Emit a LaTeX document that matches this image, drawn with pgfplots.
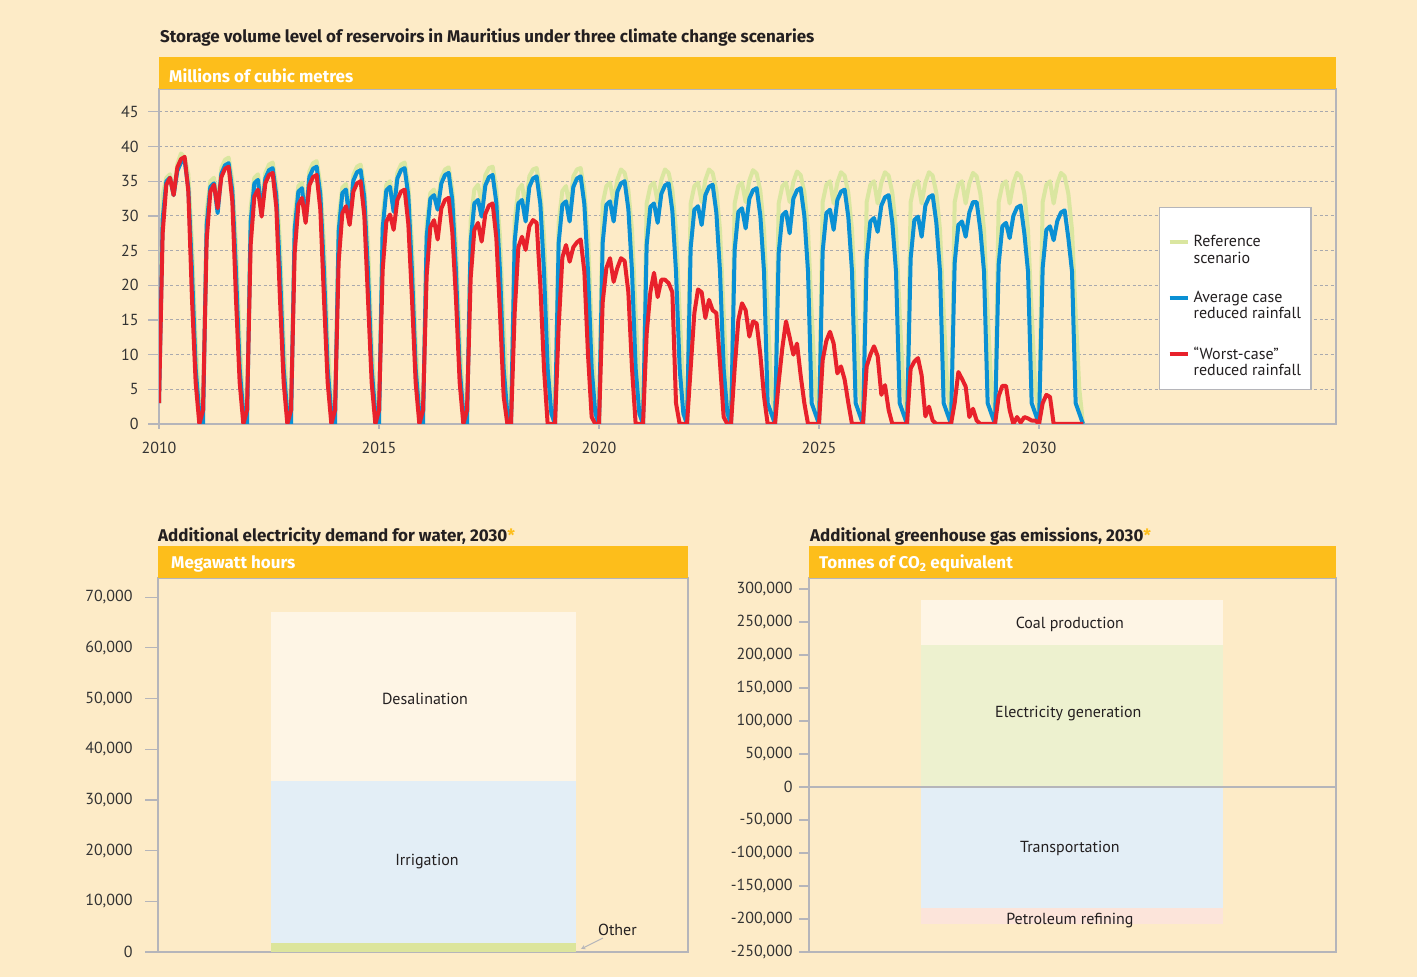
\documentclass[border=0pt]{standalone}
\usepackage{fontspec}
\setmainfont{PT Sans}
\newfontfamily\hfont{Fira Sans}
\usepackage{pgfplots}
\usepackage{pgfplotstable}
\pgfplotsset{compat=1.18}
\definecolor{bgc}{HTML}{FDEBC7}
\definecolor{bary}{HTML}{FDBE1B}
\definecolor{gridg}{HTML}{A9A9AE}
\definecolor{axisg}{HTML}{B5B5BA}
\definecolor{refg}{HTML}{DAE6A0}
\definecolor{avgb}{HTML}{0A90D4}
\definecolor{worr}{HTML}{E8212B}
\definecolor{txt}{HTML}{231F20}
\definecolor{tickc}{HTML}{333333}
\definecolor{desal}{HTML}{FEF5E5}
\definecolor{irrig}{HTML}{E3EEF6}
\definecolor{othr}{HTML}{DCE59C}
\definecolor{coal}{HTML}{FEF5E5}
\definecolor{elec}{HTML}{EDF1CF}
\definecolor{transp}{HTML}{E3EEF6}
\definecolor{petro}{HTML}{FCE4DA}
\newcommand{\fs}{\fontsize{16bp}{16bp}\selectfont}
\newcommand{\hs}{\hfont\bfseries\fontsize{17bp}{18bp}\selectfont}
\newcommand{\two}[2]{\begin{tabular}[t]{@{}l@{}}#1\\#2\end{tabular}}

\pgfplotstableread{
x g b r
2010.000 3 3 3
2010.083 33 29.5 27.5
2010.167 35.5 35 34.5
2010.250 36 35.5 35.5
2010.333 33 33 33
2010.417 37.5 36.5 37
2010.500 39 37.7 38.2
2010.583 38.5 38 38.5
2010.667 36 34 33.5
2010.750 26 22 18
2010.833 12 8 6
2010.917 3 1.5 0
2011.000 1 0 2
2011.083 30.7 28.7 26.5
2011.167 35 34.2 33.5
2011.250 35.5 34.7 34.5
2011.333 31.4 30.4 31.1
2011.417 36.9 36.1 35.6
2011.500 38.1 37.3 36.8
2011.583 38.4 37.6 37.1
2011.667 35.1 33.6 32.1
2011.750 26 22 18
2011.833 12 8 6
2011.917 3 1.5 0
2012.000 1 0 2
2012.083 31.2 29.2 25.8
2012.167 35.5 34.7 32.8
2012.250 36 35.2 33.8
2012.333 31.5 30.5 29.9
2012.417 36.2 35.4 34.7
2012.500 37.4 36.6 35.9
2012.583 37.7 36.9 36.2
2012.667 34.4 32.9 31.2
2012.750 26 22 18
2012.833 12 8 6
2012.917 3 1.5 0
2013.000 1 0 2
2013.083 30 28 24.6
2013.167 34.3 33.5 31.6
2013.250 34.8 34 32.6
2013.333 30.2 29.2 29
2013.417 36.4 35.6 34.4
2013.500 37.6 36.8 35.6
2013.583 37.9 37.1 35.9
2013.667 34.6 33.1 30.9
2013.750 26 22 18
2013.833 12 8 6
2013.917 3 1.5 0
2014.000 1 0 2
2014.083 29.8 27.8 23.4
2014.167 34.1 33.3 30.4
2014.250 34.6 33.8 31.4
2014.333 30 29 28.7
2014.417 35.9 35.1 33.5
2014.500 37.1 36.3 34.7
2014.583 37.4 36.6 35
2014.667 34.1 32.6 30
2014.750 26 22 18
2014.833 12 8 6
2014.917 3 1.5 0
2015.000 1 0 2
2015.083 30.2 28.2 22.2
2015.167 34.5 33.7 29.2
2015.250 35 34.2 30.2
2015.333 31.6 30.6 28
2015.417 36.2 35.4 32.3
2015.500 37.4 36.6 33.5
2015.583 37.7 36.9 33.8
2015.667 34.4 32.9 28.8
2015.750 26 22 18
2015.833 12 8 6
2015.917 3 1.5 0
2016.000 1 0 2
2016.083 29 27 21.4
2016.167 33.3 32.5 28.4
2016.250 33.8 33 29.4
2016.333 31.9 30.9 26.6
2016.417 35.5 34.7 31.1
2016.500 36.7 35.9 32.3
2016.583 37 36.2 32.6
2016.667 33.7 32.2 27.6
2016.750 26 22 18
2016.833 12 8 6
2016.917 3 1.5 0
2017.000 1 0 2
2017.083 29.3 26.3 21
2017.167 33.8 31.8 28
2017.250 34.5 32.3 29
2017.333 31.9 29.9 26.3
2017.417 35.9 34.4 30.3
2017.500 36.9 35.6 31.5
2017.583 37.1 35.9 31.8
2017.667 33.9 31.9 26.8
2017.750 27 22 16
2017.833 14 8 4
2017.917 4 1.5 0
2018.000 1 0 0
2018.083 29.3 26.3 16
2018.167 33.8 31.8 25.5
2018.250 34.5 32.3 27
2018.333 31.2 29.2 25.1
2018.417 35.7 34.2 28.5
2018.500 36.7 35.4 29.4
2018.583 36.9 35.7 29
2018.667 33.7 31.7 20
2018.750 27 22 8
2018.833 14 8 0
2018.917 4 1.5 0
2019.000 1 0 0
2019.083 29.1 26.1 14
2019.167 33.6 31.6 24
2019.250 34.3 32.1 25.8
2019.333 31.2 29.2 23.4
2019.417 35.7 34.2 25.5
2019.500 36.7 35.4 26.2
2019.583 36.9 35.7 26.6
2019.667 33.7 31.7 22
2019.750 27 22 10
2019.833 14 8 1
2019.917 4 1.5 0
2020.000 1 0 0
2020.083 31.8 26.1 17.5
2020.167 34.3 31.6 22.5
2020.250 34.8 32.1 23.9
2020.333 32 29.2 20.5
2020.417 35.2 33.5 22.5
2020.500 36.7 34.7 23.9
2020.583 36.2 35 23.5
2020.667 33.7 31 19
2020.750 28 22 8
2020.833 16 8 0
2020.917 5 1.5 0
2021.000 1 0 0
2021.083 31.8 25.8 13
2021.167 34.3 31.3 19
2021.250 34.8 31.8 21.8
2021.333 32 29 18.3
2021.417 35.2 33.2 20.8
2021.500 36.7 34.4 20.8
2021.583 36.2 34.7 20.3
2021.667 33.7 30.7 19
2021.750 28 22 3
2021.833 16 8 0
2021.917 5 1.5 0
2022.000 1 0 0
2022.083 31.8 25.4 8
2022.167 34.3 30.9 16
2022.250 34.8 31.4 19.4
2022.333 32 28.7 19
2022.417 35.2 33 15.3
2022.500 36.7 34.2 17.9
2022.583 36.2 34.5 16.4
2022.667 33.7 30.5 16
2022.750 28 22 8.8
2022.833 16 8 1
2022.917 5 1.5 0
2023.000 1 0 0
2023.083 31.8 25.1 8
2023.167 34.3 30.6 15
2023.250 34.8 31.1 17.4
2023.333 32 28.2 16.4
2023.417 35.1 32.5 12.6
2023.500 36.6 33.7 14.8
2023.583 36.1 34 14.5
2023.667 33.6 30 10
2023.750 28 22 4
2023.833 16 3 0
2023.917 5 1.5 0
2024.000 1 0 0
2024.083 31.8 24.6 6
2024.167 34.3 30.1 11
2024.250 34.8 30.6 14.8
2024.333 32 27.5 12.5
2024.417 34.9 32.5 10
2024.500 36.4 33.7 11.6
2024.583 35.9 34 7
2024.667 33.4 30 3
2024.750 28 22 0
2024.833 16 3 0
2024.917 5 1.5 0
2025.000 1 0 0
2025.083 32 24.9 9.2
2025.167 34.5 30.4 12
2025.250 35 30.9 13.3
2025.333 31.8 28 11.6
2025.417 34.8 32.3 7.3
2025.500 36.3 33.5 8.3
2025.583 35.8 33.8 6.4
2025.667 33.3 29.8 3
2025.750 28 22 0
2025.833 16 3 0
2025.917 5 1.5 0
2026.000 1 0 0
2026.083 32 23.7 8.3
2026.167 34.5 29.2 10
2026.250 35 29.7 11.2
2026.333 31.8 27.7 9.8
2026.417 34.8 31.5 4.2
2026.500 36.3 32.7 5.6
2026.583 35.8 33 2
2026.667 33.3 29 0
2026.750 28 22 0
2026.833 16 3 0
2026.917 5 1.5 0
2027.000 1 0 0
2027.083 32 23.9 8
2027.167 34.5 29.4 9
2027.250 35 29.9 9.5
2027.333 31.8 27 7
2027.417 34.8 31.5 1.1
2027.500 36.3 32.7 2.5
2027.583 35.8 33 0.5
2027.667 33.3 29 0
2027.750 28 22 0
2027.833 16 3 0
2027.917 5 1.5 0
2028.000 1 0 0
2028.083 32 23.2 3
2028.167 34.5 28.7 7.5
2028.250 35 29.2 6.5
2028.333 31.8 27 5.4
2028.417 34.7 30.5 1
2028.500 36.2 32 2.2
2028.583 35.7 32 0.5
2028.667 33.2 28 0
2028.750 28 22 0
2028.833 16 3 0
2028.917 5 1.5 0
2029.000 1 0 0
2029.083 32 23 4
2029.167 34.5 28.5 5.5
2029.250 35 29 5.5
2029.333 31.8 26.8 2
2029.417 34.7 30 0
2029.500 36.2 31.2 1
2029.583 35.7 31.5 0.2
2029.667 33.2 27.5 1
2029.750 28 22 0.8
2029.833 16 3 0.5
2029.917 5 1.5 0.5
2030.000 1 0 0
2030.083 32 22.5 3
2030.167 34.5 28 4.2
2030.250 35 28.5 3.9
2030.333 31.8 26.5 0
2030.417 34.7 29.3 0
2030.500 36.2 30.5 0
2030.583 35.7 30.8 0
2030.667 33.2 26.8 0
2030.750 28 22 0
2030.833 16 3 0
2030.917 5 1.5 0
2031.000 0 0 0
}\storage

\pgfplotsset{
  base/.style={scale only axis, anchor=south west,
    axis line style={draw=axisg, line width=1.2bp},
    tick style={draw=axisg, line width=1.2bp},
    tick align=outside, ytick pos=left, xtick pos=bottom,
    ticklabel style={font=\fs, text=tickc},
    /pgf/number format/assume math mode=true,
  }
}

\begin{document}
\begin{tikzpicture}[x=1bp,y=1bp]
\fill[bgc] (0bp,0bp) rectangle (1417bp,977bp);

% ---------- top line chart ----------
\begin{axis}[base, at={(159bp,553bp)}, width=1177bp, height=335bp,
  xmin=2010, xmax=2036.75, ymin=0, ymax=48.3,
  xtick={2010,2015,2020,2025,2030}, ytick={0,5,...,45},
  xticklabel style={yshift=-4bp, /pgf/number format/1000 sep={}},
  yticklabel style={xshift=-6bp},
  major tick length=11bp,
  xtick style={/pgfplots/major tick length=5bp},
  ymajorgrids, grid style={draw=gridg, line width=1bp, dash pattern=on 3bp off 2.5bp},
  no markers,
  legend cell align=left,
  legend style={at={(0.8496,0.6478)}, anchor=north west, draw=axisg, line width=1.2bp,
    fill=white, font=\fs, text=txt, inner xsep=8bp, inner ysep=26bp, row sep=39bp},
  legend image code/.code={\draw[#1, line width=4bp] (0bp,0bp) -- (18bp,0bp); \path[draw=none] (22bp,0bp);},
]
\addplot[refg, line width=4bp, line join=round] table[x=x,y=g]{\storage};
\addlegendentry{\two{Reference}{scenario}}
\addplot[avgb, line width=4bp, line join=round] table[x=x,y=b]{\storage};
\addlegendentry{\two{Average case}{reduced rainfall}}
\addplot[worr, line width=4bp, line join=round] table[x=x,y=r]{\storage};
\addlegendentry{\two{“Worst-case”}{reduced rainfall}}
\end{axis}

% ---------- bottom left bar ----------
\begin{axis}[base, at={(158bp,25bp)}, width=530bp, height=374bp,
  xmin=0, xmax=1, ymin=0, ymax=73770,
  xtick=\empty, ytick={0,10000,...,70000},
  scaled y ticks=false,
  yticklabel style={xshift=-9bp, /pgf/number format/fixed, /pgf/number format/1000 sep={,}},
  major tick length=13bp,
  ybar stacked, bar width=0.5755,
]
\addplot[fill=othr, draw=none] coordinates {(0.501,1800)};
\addplot[fill=irrig, draw=none] coordinates {(0.501,31900)};
\addplot[fill=desal, draw=none] coordinates {(0.501,33360)};
\draw[->, >=stealth, draw=axisg, line width=1bp] (axis cs:0.8396,2761) -- (axis cs:0.798,592);
\node[font=\fs, text=txt, anchor=base west, inner sep=0] at (axis cs:0.830,3350) {Other};
\end{axis}
\node[font=\fs, text=txt] at (425bp,278bp) {Desalination};
\node[font=\fs, text=txt] at (427bp,115bp) {Irrigation};

% ---------- bottom right bar ----------
\begin{axis}[base, at={(809bp,25bp)}, width=527bp, height=374bp,
  xmin=0, xmax=1, ymin=-250000, ymax=316700,
  xtick=\empty, ytick={-250000,-200000,...,300000},
  scaled y ticks=false,
  yticklabel style={xshift=-3bp, /pgf/number format/fixed, /pgf/number format/1000 sep={,}},
  major tick length=10bp,
  ybar, bar shift=0pt, bar width=0.5731,
  extra y ticks={0}, extra y tick labels={},
  extra y tick style={grid=major, major grid style={draw=axisg, line width=1.2bp}},
  axis on top,
]
\addplot[fill=coal, draw=none] coordinates {(0.499,283300)};
\addplot[fill=elec, draw=none] coordinates {(0.499,215000)};
\addplot[fill=petro, draw=none] coordinates {(0.499,-207600)};
\addplot[fill=transp, draw=none] coordinates {(0.499,-183300)};
\node[font=\fs, text=txt] at (axis cs:0.495,247000) {Coal production};
\node[font=\fs, text=txt] at (axis cs:0.492,110600) {Electricity generation};
\node[font=\fs, text=txt] at (axis cs:0.495,-92400) {Transportation};
\node[font=\fs, text=txt] at (axis cs:0.495,-202000) {Petroleum refining};
\end{axis}

% ---------- headers ----------
\fill[bary] (159bp,888bp) rectangle (1336bp,920bp);
\node[anchor=base west, inner sep=0, font=\hs, text=white] at (169bp,894bp) {Millions of cubic metres};
\node[anchor=base west, inner sep=0, font=\hs, text=txt] at (160bp,934bp) {Storage volume level of reservoirs in Mauritius under three climate change scenaries};

\fill[bary] (158bp,399bp) rectangle (688bp,431bp);
\node[anchor=base west, inner sep=0, font=\hs, text=white] at (171bp,408bp) {Megawatt hours};
\node[anchor=base west, inner sep=0, font=\hs, text=txt] at (158bp,435bp) {Additional electricity demand for water, 2030\textcolor{bary}{*}};

\fill[bary] (809bp,399bp) rectangle (1336bp,431bp);
\node[anchor=base west, inner sep=0, font=\hs, text=white] at (819bp,408bp) {Tonnes of CO\textsubscript{2} equivalent};
\node[anchor=base west, inner sep=0, font=\hs, text=txt] at (810bp,435bp) {Additional greenhouse gas emissions, 2030\textcolor{bary}{*}};
\end{tikzpicture}
\end{document}
